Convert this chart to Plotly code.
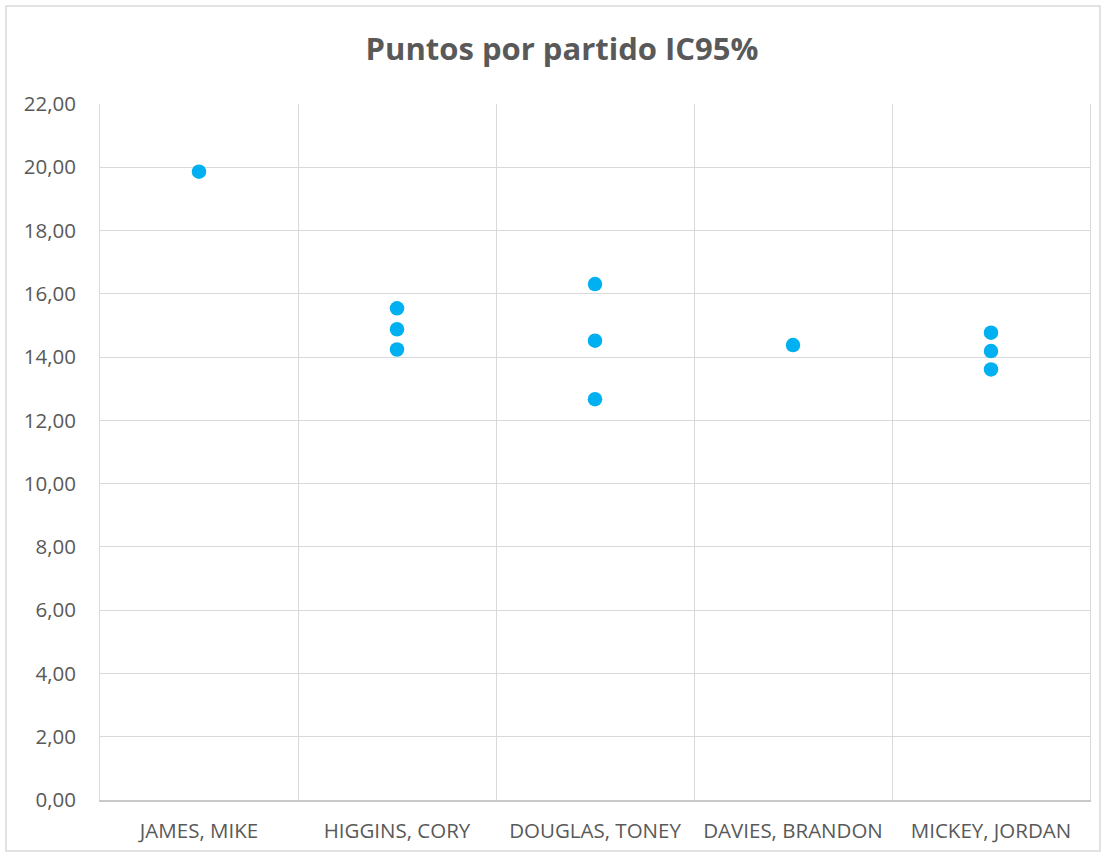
import plotly.graph_objects as go

players = ["JAMES, MIKE", "HIGGINS, CORY", "DOUGLAS, TONEY", "DAVIES, BRANDON", "MICKEY, JORDAN"]
# Each player's points (upper bound, mean, lower bound of the 95% CI where shown)
point_players = ["JAMES, MIKE",
                 "HIGGINS, CORY", "HIGGINS, CORY", "HIGGINS, CORY",
                 "DOUGLAS, TONEY", "DOUGLAS, TONEY", "DOUGLAS, TONEY",
                 "DAVIES, BRANDON",
                 "MICKEY, JORDAN", "MICKEY, JORDAN", "MICKEY, JORDAN"]
point_values = [19.86,
                15.54, 14.88, 14.24,
                16.31, 14.52, 12.67,
                14.38,
                14.77, 14.19, 13.61]
y_ticks = [0, 2, 4, 6, 8, 10, 12, 14, 16, 18, 20, 22]

W, H = 1106, 857
L, R, T, B = 100, 16, 104, 57
pw, ph = W - L - R, H - T - B

grid = "#d9d9d9"
txt = "#595959"
font = "Open Sans"

fig = go.Figure()
fig.add_trace(go.Scatter(
    x=point_players, y=point_values, mode="markers",
    marker=dict(color="#00B0F0", size=14.5, line=dict(width=0)),
    showlegend=False, hoverinfo="x+y"))

fig.update_layout(
    width=W, height=H,
    margin=dict(l=L, r=R, t=T, b=B),
    paper_bgcolor="white", plot_bgcolor="white",
    separators=",.",
    font=dict(family=font, color=txt, size=20),
    title=dict(text="<b>Puntos por partido IC95%</b>", x=562 / W, xanchor="center",
               y=1 - 49 / H, yanchor="middle",
               font=dict(family=font, size=31, color=txt)),
    xaxis=dict(type="category", categoryorder="array", categoryarray=players,
               tickson="boundaries", showgrid=True, gridcolor=grid, gridwidth=1,
               ticks="", showline=True, linecolor="#c9c9c9", linewidth=1.5, mirror=False,
               tickfont=dict(size=20.5, color=txt), ticklabelstandoff=12,
               range=[-0.5, 4.5], zeroline=False),
    yaxis=dict(range=[0, 22], tickvals=y_ticks, tickformat=".2f",
               showgrid=True, gridcolor=grid, gridwidth=1,
               showline=True, linecolor=grid, linewidth=1, mirror=True,
               zeroline=False, ticks="", ticklabelstandoff=19,
               tickfont=dict(size=20.5, color=txt)),
    shapes=[dict(type="rect", xref="paper", yref="paper",
                 x0=(6 - L) / pw, x1=(1100 - L) / pw,
                 y0=(H - B - 851) / ph, y1=(H - B - 6) / ph,
                 line=dict(color=grid, width=1.5), fillcolor="rgba(0,0,0,0)", layer="below")],
)

fig.write_html("out.html", config={"displayModeBar": False},
               post_script="document.body.style.margin='0';document.body.style.padding='0';")
